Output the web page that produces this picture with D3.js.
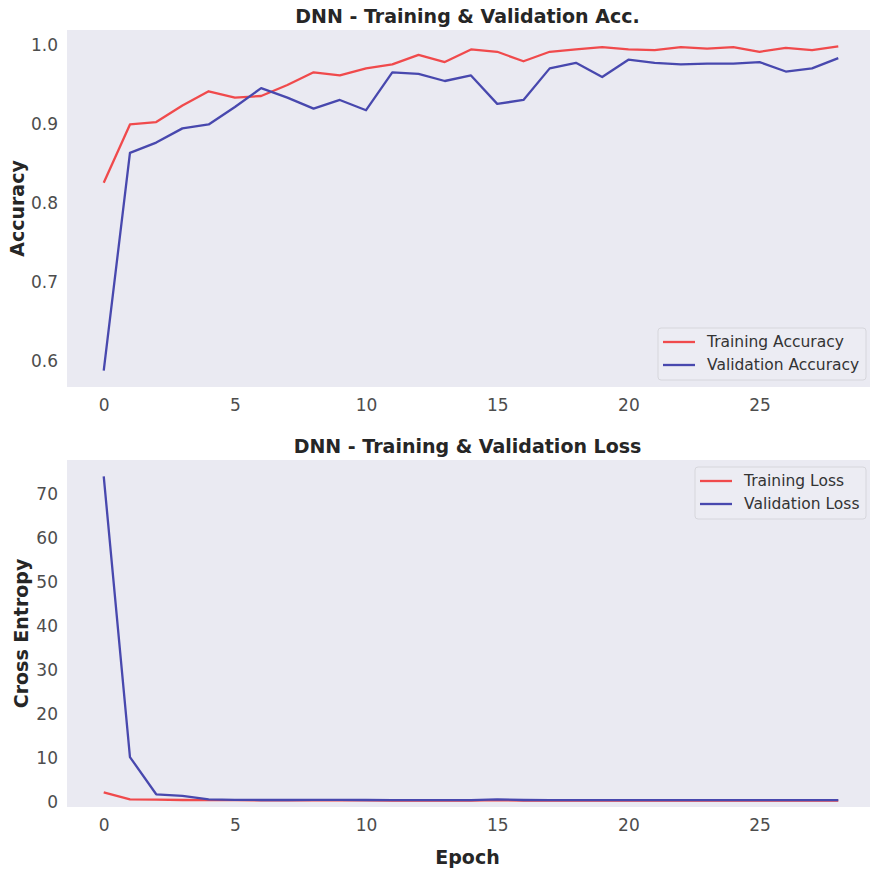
<!DOCTYPE html>
<html>
<head>
<meta charset="utf-8">
<script src="https://cdn.jsdelivr.net/npm/d3@7"></script>
<style>
  body { margin: 0; background: #fff; }
  svg { font-family: "DejaVu Sans", sans-serif; }
</style>
</head>
<body>
<svg id="chart" width="870" height="870"></svg>
<script>
// values
var epochs = d3.range(0, 29)
var trainAcc = [0.826, 0.900, 0.903, 0.924, 0.942, 0.934, 0.936, 0.950, 0.966, 0.962,
                0.971, 0.976, 0.988, 0.979, 0.995, 0.992, 0.980, 0.992, 0.995, 0.998,
                0.995, 0.994, 0.998, 0.996, 0.998, 0.992, 0.997, 0.994, 0.999]
var valAcc = [0.588, 0.864, 0.877, 0.895, 0.900, 0.922, 0.946, 0.934, 0.920, 0.931,
              0.918, 0.966, 0.964, 0.955, 0.962, 0.926, 0.931, 0.971, 0.978, 0.960,
              0.982, 0.978, 0.976, 0.977, 0.977, 0.979, 0.967, 0.971, 0.984]
var trainLoss = [2.2, 0.6, 0.55, 0.45, 0.4, 0.4, 0.35, 0.35, 0.35, 0.35,
                 0.35, 0.3, 0.3, 0.3, 0.3, 0.4, 0.3, 0.3, 0.3, 0.3,
                 0.3, 0.3, 0.3, 0.3, 0.3, 0.3, 0.3, 0.3, 0.3]
var valLoss = [74.0, 10.2, 1.75, 1.4, 0.6, 0.5, 0.45, 0.45, 0.5, 0.5,
               0.45, 0.4, 0.4, 0.4, 0.4, 0.6, 0.45, 0.4, 0.4, 0.4,
               0.4, 0.4, 0.4, 0.4, 0.4, 0.4, 0.4, 0.4, 0.4]

var xTicks = [0, 5, 10, 15, 20, 25]
var accTicks = [0.6, 0.7, 0.8, 0.9, 1.0]
var lossTicks = [0, 10, 20, 30, 40, 50, 60, 70]

var RED = "#f04a4c"
var BLUE = "#4848ae"
var BG = "#eaeaf2"

var svg = d3.select("#chart")

var left = 67, right = 875

var x = d3.scaleLinear().domain([-1.4, 29.4]).range([left, right])

// two panels stacked
var panels = [
    {
        title: "DNN - Training & Validation Acc.",
        top: 30, bottom: 387,
        y: d3.scaleLinear().domain([0.5674, 1.0196]).range([387, 30]),
        ticks: accTicks, fmt: d3.format(".1f"),
        ylabel: "Accuracy", ylabelX: 17,
        xlabel: null,
        series: [[trainAcc, RED, "Training Accuracy"], [valAcc, BLUE, "Validation Accuracy"]],
        legend: {x: 658, y: 328, w: 208, h: 52}
    },
    {
        title: "DNN - Training & Validation Loss",
        top: 460, bottom: 807,
        y: d3.scaleLinear().domain([-1.14, 77.7]).range([807, 460]),
        ticks: lossTicks, fmt: d3.format("d"),
        ylabel: "Cross Entropy", ylabelX: 21,
        xlabel: "Epoch",
        series: [[trainLoss, RED, "Training Loss"], [valLoss, BLUE, "Validation Loss"]],
        legend: {x: 695, y: 467, w: 171, h: 52}
    }
]

panels.forEach(function(p, i){
    var g = svg.append("g")
    var clipId = "clip" + i

    g.append("clipPath").attr("id", clipId)
        .append("rect")
        .attr("x", left).attr("y", p.top)
        .attr("width", right - left).attr("height", p.bottom - p.top)

    g.append("rect")
        .attr("x", left).attr("y", p.top)
        .attr("width", right - left).attr("height", p.bottom - p.top)
        .attr("fill", BG)

    g.append("text")
        .attr("x", (left + 868) / 2).attr("y", p.top - 7)
        .attr("text-anchor", "middle")
        .attr("font-size", "19px").attr("font-weight", "bold")
        .attr("fill", "#262626")
        .text(p.title)

    // y axis, no tick lines (seaborn dark style)
    var yAxis = d3.axisLeft(p.y).tickValues(p.ticks).tickFormat(p.fmt).tickSize(0).tickPadding(9)
    var ya = g.append("g").attr("transform", "translate(" + left + ",0)").call(yAxis)
    ya.select(".domain").remove()
    ya.selectAll("text").attr("font-size", "17px").attr("fill", "#4d4d4d")
        .attr("font-family", "DejaVu Sans, sans-serif")

    var xAxis = d3.axisBottom(x).tickValues(xTicks).tickSize(0).tickPadding(12)
    var xa = g.append("g").attr("transform", "translate(0," + p.bottom + ")").call(xAxis)
    xa.select(".domain").remove()
    xa.selectAll("text").attr("font-size", "17px").attr("fill", "#4d4d4d")
        .attr("font-family", "DejaVu Sans, sans-serif")

    g.append("text")
        .attr("transform", "translate(" + p.ylabelX + "," + ((p.top + p.bottom) / 2) + ") rotate(-90)")
        .attr("text-anchor", "middle").attr("dominant-baseline", "central")
        .attr("font-size", "19px").attr("font-weight", "bold")
        .attr("fill", "#262626")
        .text(p.ylabel)

    if(p.xlabel){
        g.append("text")
            .attr("x", (left + 868) / 2).attr("y", 864)
            .attr("text-anchor", "middle")
            .attr("font-size", "19px").attr("font-weight", "bold")
            .attr("fill", "#262626")
            .text(p.xlabel)
    }

    var line = d3.line()
        .x(function(d, j){ return x(epochs[j]) })
        .y(function(d){ return p.y(d) })

    p.series.forEach(function(s){
        g.append("path")
            .datum(s[0])
            .attr("clip-path", "url(#" + clipId + ")")
            .attr("fill", "none")
            .attr("stroke", s[1])
            .attr("stroke-width", "2.3px")
            .attr("stroke-linejoin", "round")
            .attr("d", line)
    })

    // legend
    var L = p.legend
    var lg = g.append("g")
    lg.append("rect")
        .attr("x", L.x).attr("y", L.y).attr("width", L.w).attr("height", L.h)
        .attr("rx", 3)
        .attr("fill", "#ececf3").attr("stroke", "#d6d6dc").attr("stroke-width", 1)
    p.series.forEach(function(s, k){
        var cy = L.y + 14 + k * 23
        lg.append("line")
            .attr("x1", L.x + 5).attr("x2", L.x + 37)
            .attr("y1", cy).attr("y2", cy)
            .attr("stroke", s[1]).attr("stroke-width", "2.3px")
        lg.append("text")
            .attr("x", L.x + 49).attr("y", cy)
            .attr("dominant-baseline", "central")
            .attr("font-size", "15.5px").attr("fill", "#333")
            .text(s[2])
    })
})
</script>
</body>
</html>
